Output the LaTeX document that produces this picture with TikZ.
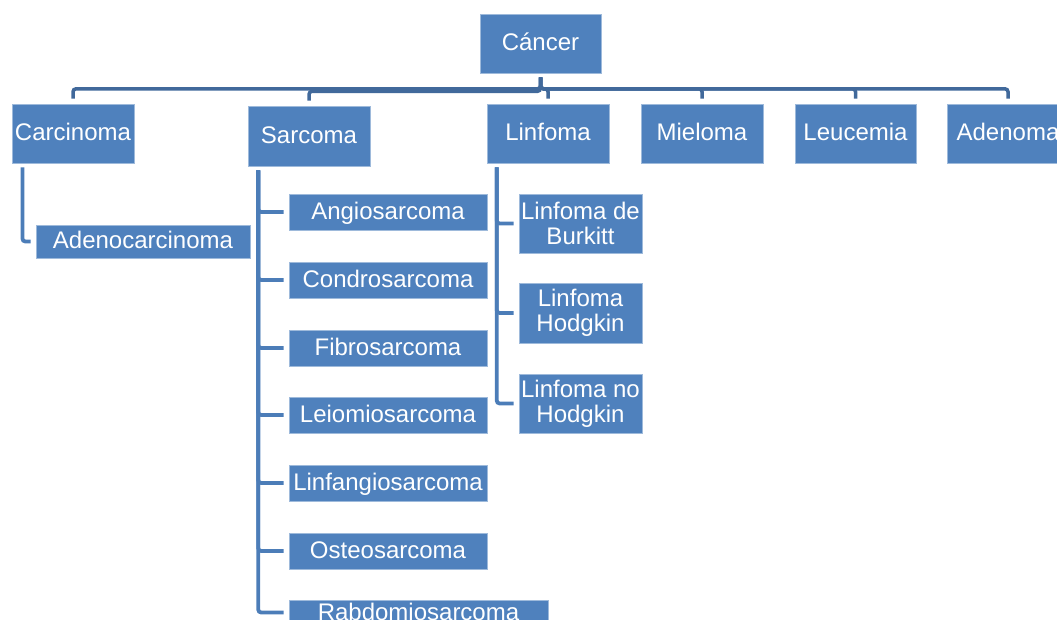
\documentclass[tikz,border=0pt]{standalone}
\usepackage{fontspec}
\setmainfont{Liberation Sans}
\definecolor{boxblue}{HTML}{4F81BD}
\definecolor{linkblue}{HTML}{41699B}
\definecolor{branchblue}{HTML}{4C7DB8}
\begin{document}
\begin{tikzpicture}[x=1pt,y=-1pt,
  box/.style={rectangle, fill=boxblue, draw=boxblue!55!white, line width=0.6pt,
    text=white, inner sep=0pt, font=\fontsize{24}{25}\selectfont, align=center},
  oneline/.style={text height=17pt, text depth=2pt},
  top/.style={box, oneline, minimum width=122pt, minimum height=59pt},
  sub/.style={box, oneline, minimum width=198pt, minimum height=36pt},
  lym/.style={box, minimum width=123pt, minimum height=59pt},
  conn/.style={draw=linkblue, line width=3.5pt, rounded corners=3pt,
    shorten <=4pt, shorten >=5pt},
  branch/.style={conn, draw=branchblue, line width=3.8pt}]
\useasboundingbox (0,0) rectangle (1057,620);
\clip (0,0) rectangle (1057,620);

% root
\node[box, oneline, minimum width=121pt, minimum height=59pt] (cancer) at (540.5,43.5) {Cáncer};

% first level
\node[top] (carcinoma) at (73,133.5) {Carcinoma};
\node[top, minimum height=60pt] (sarcoma) at (309,136) {Sarcoma};
\node[top] (linfoma) at (548,133.5) {Linfoma};
\node[top] (mieloma) at (702,133.5) {Mieloma};
\node[top, minimum width=121pt] (leucemia) at (855.5,133.5) {Leucemia};
\node[top] (adenoma) at (1008,133.5) {Adenoma};

% carcinoma branch
\node[box, oneline, minimum width=214pt, minimum height=33pt] (adenocarcinoma) at (143,241.5) {Adenocarcinoma};

% sarcoma branch
\node[sub] (angio) at (388,212) {Angiosarcoma};
\node[sub] (condro) at (388,280) {Condrosarcoma};
\node[sub] (fibro) at (388,348) {Fibrosarcoma};
\node[sub] (leio) at (388,415) {Leiomiosarcoma};
\node[sub] (linfangio) at (388,483) {Linfangiosarcoma};
\node[sub] (osteo) at (388,551) {Osteosarcoma};
\node[sub, minimum width=259pt, minimum height=25pt] (rabdo) at (418.5,612.5) {Rabdomiosarcoma};

% linfoma branch
\node[lym] (burkitt) at (580.5,223.5) {Linfoma de\\Burkitt};
\node[lym, minimum height=60pt] (hodgkin) at (580.5,313) {Linfoma\\Hodgkin};
\node[lym] (nohodgkin) at (580.5,403.5) {Linfoma no\\Hodgkin};

% root connectors
\draw[conn] (cancer.south) -- ++(0,15.5) -| (carcinoma.north);
\draw[conn] (cancer.south) -- ++(0,18) -| (sarcoma.north);
\foreach \c in {linfoma,mieloma,leucemia,adenoma}
  \draw[conn] (cancer.south) -- ++(0,15.5) -| (\c.north);

% sub-tree connectors
\draw[branch] ([xshift=10.7pt]carcinoma.south west) |- (adenocarcinoma.west);
\foreach \c in {angio,condro,fibro,leio,linfangio,osteo,rabdo}
  \draw[branch] ([xshift=10.5pt]sarcoma.south west) |- (\c.west);
\foreach \c in {burkitt,hodgkin,nohodgkin}
  \draw[branch] ([xshift=10pt]linfoma.south west) |- (\c.west);
\end{tikzpicture}
\end{document}
